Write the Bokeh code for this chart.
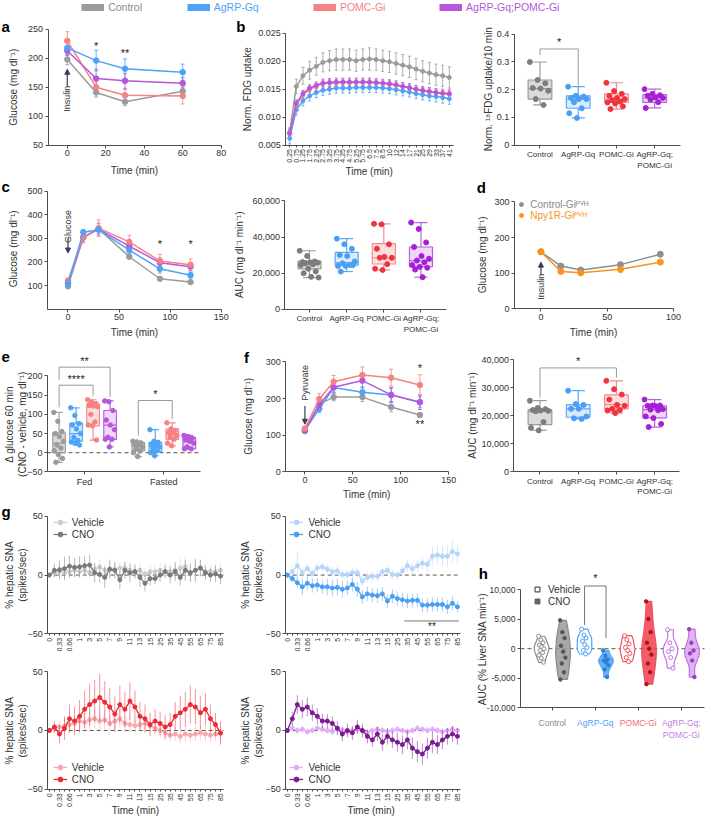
import numpy as np
from bokeh.plotting import figure
from bokeh.models import (Range1d, Label, Arrow, NormalHead, Whisker, TeeHead,
                          ColumnDataSource, Legend, LegendItem, FixedTicker, NumeralTickFormatter)
from bokeh.layouts import row, column
from bokeh.embed import file_html
from bokeh.resources import INLINE

FONT = "Liberation Sans"
AXC = "#4d4d4d"
TXC = "#333333"
NAVY = "#34405a"

# ---------------- data ----------------
GROUPS = ["Control", "AgRP-Gq", "POMC-Gi", "AgRP-Gq;POMC-Gi"]
GROUP_TICKS = ["Control", "AgRP-Gq", "POMC-Gi", "AgRP-Gq;\nPOMC-Gi"]
LINE_COL = ["#9b9b9b", "#4da3f7", "#f78183", "#b656dc"]
BOX_FILL = ["#d6d6d6", "#d5e8fd", "#fddadb", "#eed3f8"]
BOX_LINE = ["#9a9a9a", "#5aa9f5", "#f58a90", "#bb5fe0"]
DOT_COL = ["#7d7d7d", "#4a9ef5", "#f2333d", "#a51fd4"]

# a: insulin tolerance
a_time = [0, 15, 30, 60]
a_ctrl = [198, 141, 125, 143]
a_agrp = [218, 196, 182, 176]
a_pomc = [230, 150, 136, 135]
a_both = [213, 165, 161, 157]
a_ctrl_err = [9, 8, 7, 8]
a_agrp_err = [12, 18, 17, 14]
a_pomc_err = [16, 12, 10, 14]
a_both_err = [8, 16, 13, 10]

# b: FDG uptake
b_lab = ["0.25", "0.75", "1.25", "1.75", "2.25", "2.75", "3.25", "3.75", "4.25", "4.75", "5.25", "5.75",
         "6.5", "7.5", "8.5", "10", "12", "14", "17", "21", "25", "29", "33", "37", "41"]
b_ctrl = [0.0073, 0.0155, 0.0174, 0.0184, 0.0191, 0.0198, 0.0201, 0.0203, 0.0203, 0.0203, 0.0201, 0.0203,
          0.0204, 0.0203, 0.0201, 0.0199, 0.0196, 0.0193, 0.0190, 0.0186, 0.0182, 0.0179, 0.0176, 0.0174, 0.0171]
b_agrp = [0.0062, 0.0113, 0.0129, 0.0138, 0.0144, 0.0148, 0.0150, 0.0152, 0.0152, 0.0152, 0.0153, 0.0153,
          0.0153, 0.0153, 0.0152, 0.0151, 0.0149, 0.0147, 0.0145, 0.0142, 0.0140, 0.0138, 0.0137, 0.0135, 0.0133]
b_pomc = [0.0070, 0.0122, 0.0140, 0.0150, 0.0155, 0.0160, 0.0161, 0.0161, 0.0162, 0.0162, 0.0162, 0.0162,
          0.0162, 0.0161, 0.0160, 0.0159, 0.0157, 0.0155, 0.0152, 0.0150, 0.0147, 0.0145, 0.0144, 0.0142, 0.0141]
b_both = [0.0071, 0.0125, 0.0142, 0.0152, 0.0157, 0.0161, 0.0162, 0.0163, 0.0163, 0.0163, 0.0163, 0.0163,
          0.0163, 0.0162, 0.0161, 0.0160, 0.0158, 0.0155, 0.0153, 0.0150, 0.0148, 0.0146, 0.0144, 0.0143, 0.0142]
b_ctrl_err = [0.0008, 0.0013, 0.0015, 0.0016, 0.0016, 0.0017, 0.0018, 0.0019, 0.0019, 0.0019, 0.0019, 0.0019,
              0.0020, 0.0019, 0.0019, 0.0019, 0.0019, 0.0019, 0.0019, 0.0019, 0.0019, 0.0019, 0.0019, 0.0019, 0.0019]
b_agrp_err = [0.0010, 0.0009, 0.0009, 0.0009, 0.0009, 0.0009, 0.0009, 0.0009, 0.0009, 0.0009, 0.0009, 0.0009,
              0.0009, 0.0009, 0.0009, 0.0009, 0.0009, 0.0009, 0.0009, 0.0009, 0.0009, 0.0009, 0.0010, 0.0010, 0.0010]
b_pomc_err = [0.0008, 0.0006, 0.0006, 0.0006, 0.0006, 0.0006, 0.0006, 0.0006, 0.0006, 0.0006, 0.0006, 0.0006,
              0.0006, 0.0006, 0.0006, 0.0006, 0.0006, 0.0006, 0.0006, 0.0006, 0.0006, 0.0006, 0.0006, 0.0006, 0.0006]
b_both_err = [0.0008, 0.0006, 0.0006, 0.0006, 0.0006, 0.0007, 0.0007, 0.0007, 0.0007, 0.0007, 0.0007, 0.0007,
              0.0007, 0.0007, 0.0007, 0.0007, 0.0007, 0.0007, 0.0007, 0.0007, 0.0007, 0.0007, 0.0007, 0.0007, 0.0007]

# b right: FDG uptake / 10 min boxes
br_lo = [0.145, 0.098, 0.130, 0.134]
br_q1 = [0.166, 0.133, 0.154, 0.154]
br_med = [0.204, 0.166, 0.166, 0.170]
br_q3 = [0.235, 0.178, 0.185, 0.182]
br_hi = [0.300, 0.211, 0.225, 0.202]
br_ctrl = [0.300, 0.235, 0.223, 0.206, 0.204, 0.196, 0.166, 0.145]
br_agrp = [0.211, 0.178, 0.175, 0.170, 0.166, 0.166, 0.155, 0.133, 0.115, 0.098]
br_pomc = [0.225, 0.195, 0.185, 0.178, 0.170, 0.166, 0.162, 0.157, 0.154, 0.150, 0.140, 0.130]
br_both = [0.202, 0.185, 0.180, 0.178, 0.172, 0.170, 0.165, 0.155, 0.134]

# c: glucose tolerance
c_time = [0, 15, 30, 60, 90, 120]
c_ctrl = [97, 303, 340, 222, 129, 115]
c_agrp = [108, 326, 336, 250, 171, 144]
c_pomc = [121, 305, 343, 285, 204, 188]
c_both = [114, 305, 339, 267, 197, 180]
c_ctrl_err = [6, 8, 10, 8, 6, 6]
c_agrp_err = [8, 10, 15, 15, 18, 12]
c_pomc_err = [10, 25, 35, 28, 28, 25]
c_both_err = [8, 18, 25, 20, 20, 18]

# c right: AUC boxes
cr_lo = [17600, 20900, 21800, 17800]
cr_q1 = [22400, 24500, 25100, 23600]
cr_med = [25800, 25800, 28500, 26900]
cr_q3 = [26700, 31500, 36400, 34500]
cr_hi = [32400, 39100, 47300, 48000]
cr_ctrl = [32400, 29500, 26500, 26200, 26000, 25800, 25500, 25000, 24500, 22500, 21000, 20000, 18000, 17600]
cr_agrp = [39100, 36000, 33500, 30000, 29500, 26500, 25500, 24500, 24000, 24000, 24500, 20900]
cr_pomc = [47300, 47000, 36000, 33500, 29000, 28500, 28500, 25000, 22500, 21800]
cr_both = [48000, 44500, 37000, 34500, 29500, 28000, 27000, 26000, 24500, 23500, 23000, 22000, 17800]

# d: Npy1R
d_time = [0, 15, 30, 60, 90]
d_ctrl = [160, 120, 109, 124, 153]
d_npy = [160, 105, 101, 111, 131]
d_ctrl_err = [6, 5, 5, 5, 6]
d_npy_err = [6, 5, 5, 8, 6]

# e: delta glucose boxes (Fed then Fasted, groups in order)
e_lo = [-25, 20, 33, 15, -10, -8, 18, 10]
e_q1 = [0, 30, 70, 35, 5, 3, 35, 10]
e_med = [25, 50, 118, 72, 18, 15, 50, 28]
e_q3 = [52, 77, 126, 110, 27, 27, 62, 40]
e_hi = [105, 117, 138, 135, 30, 60, 78, 45]
e_fed_ctrl = [105, 82, 55, 50, 42, 30, 20, 12, 5, -5, -15, -25]
e_fed_agrp = [117, 97, 76, 72, 62, 50, 40, 32, 28, 25, 20]
e_fed_pomc = [138, 132, 128, 125, 122, 120, 100, 80, 72, 70, 33]
e_fed_both = [135, 133, 110, 85, 72, 60, 40, 35, 35, 15]
e_fast_ctrl = [30, 28, 25, 22, 20, 15, 10, 5, 0, -10]
e_fast_agrp = [60, 30, 27, 22, 18, 15, 10, 5, 0, -8]
e_fast_pomc = [78, 62, 58, 52, 50, 45, 40, 35, 25, 18]
e_fast_both = [45, 42, 38, 35, 30, 25, 15, 10, 10]

# f: pyruvate tolerance
f_time = [0, 15, 30, 60, 90, 120]
f_ctrl = [111, 185, 204, 204, 177, 155]
f_agrp = [113, 172, 230, 217, 210, 190]
f_pomc = [118, 199, 246, 264, 257, 237]
f_both = [114, 183, 231, 249, 210, 190]
f_ctrl_err = [5, 12, 10, 12, 13, 6]
f_agrp_err = [6, 10, 12, 15, 18, 15]
f_pomc_err = [6, 15, 17, 22, 23, 28]
f_both_err = [5, 12, 15, 20, 20, 20]

# f right: AUC boxes
fr_lo = [14700, 18800, 20900, 15900]
fr_q1 = [16800, 19400, 22400, 19200]
fr_med = [21500, 22400, 23900, 22100]
fr_q3 = [22100, 23900, 27400, 23500]
fr_hi = [25300, 28900, 32400, 25700]
fr_ctrl = [25300, 22700, 22300, 22000, 21800, 21700, 21500, 17700, 15600, 14700]
fr_agrp = [28900, 24100, 23800, 22400, 22400, 19700, 19000, 18800]
fr_pomc = [32400, 29400, 27500, 25700, 23800, 23500, 22400, 22000, 21800, 20900]
fr_both = [25700, 23600, 23600, 23500, 23400, 22300, 22100, 21900, 19700, 19100, 17000, 15900]

# g: hepatic SNA time courses
g_lab = ["0", "0.16", "0.33", "0.5", "0.66", "0.83", "1", "2", "3", "4", "5", "6", "7", "8", "9", "10",
         "11", "12", "13", "14", "15", "20", "25", "30", "35", "40", "45", "50", "55", "60", "65", "70",
         "75", "80", "85"]
ctl_veh = [0, 2, 3, 2, 3, 4, 3, 4, 2, 5, 7, 4, 5, 5, 6, 6, 4, 3, 4, 1, 3, 3, 4, 3, 3, 4, 6, 7, 2, 4,
           6, 3, 3, 3, 4]
ctl_veh_err = [0, 4, 5, 5, 6, 6, 5, 6, 5, 6, 6, 5, 5, 6, 5, 6, 5, 5, 6, 5, 5, 6, 6, 5, 6, 7, 8, 9, 7, 8,
               7, 6, 6, 6, 6]
ctl_cno = [0, 4, 4.5, 5.5, 7.5, 6.5, 7, 8, 8.5, 2, 0.5, -2, 5, 4, -4, 4, 2, 3, -2, -7, -3, -3, 0, 3, 0,
           3, -2, 4, 2, 4, 6, 2, 0, 1, -1]
ctl_cno_err = [0, 6, 8, 10, 9, 8, 9, 8, 9, 8, 7, 9, 8, 7, 8, 7, 8, 6, 8, 7, 6, 5, 6, 6, 7, 8, 7, 9, 8, 10,
               7, 6, 6, 7, 7]
agrp_veh = [0, 3, 8, 2, 5.5, 1.5, 6, 7, 5, 3, 3.5, 0.5, 0.3, 2, 2, -5, -2, -1, -1, 3, 4, 0.5, 0, 3.5, 8,
            5.5, 8, 10, 9, 16, 17, 16, 16, 20, 18]
agrp_veh_err = [0, 4, 12, 5, 4, 4, 4, 4, 4, 4, 4, 4, 4, 4, 4, 4, 4, 4, 4, 4, 4, 4, 4, 4, 5, 5, 5, 5, 6, 8,
                8, 9, 9, 10, 8]
agrp_cno = [0, -3, -6.5, -10, -7, -9, -8.5, -10, -10, -11, -10.5, -12, -11, -8, -12, -18.5, -16, -17, -17.5,
            -16, -22, -18, -20, -21, -22, -21.5, -21.5, -25.5, -25.5, -25, -25, -25, -27, -24, -27]
agrp_cno_err = [0, 3, 5, 7, 6, 6, 6, 6, 7, 7, 7, 7, 6, 6, 6, 6, 6, 6, 6, 6, 6, 6, 6, 6, 6, 6, 6, 6, 6, 6,
                6, 6, 6, 6, 5]
pomc_veh = [0, 2, 3, 4, 5, 6, 8, 7, 9, 10, 8, 9, 6, 8, 10, 6, 5, 4, 5, 6, 4, 2, 0, -2, -4, -3, -5, -3, -4,
            -3, -2, -3, -4, -3, -3]
pomc_veh_err = [0, 4, 5, 6, 6, 7, 7, 8, 8, 8, 8, 8, 7, 8, 8, 7, 7, 6, 6, 6, 6, 6, 6, 6, 6, 6, 6, 6, 6, 6,
                6, 6, 6, 6, 6]
pomc_cno = [0, 3, -3, 2, 10, 8, 12, 18, 22, 25, 28, 24, 20, 14, 22, 18, 25, 20, 12, 10, 5, 8, 6, 3, 5, 12,
            15, 18, 22, 20, 15, 18, 10, 5, -2]
pomc_cno_err = [0, 5, 8, 10, 12, 12, 14, 16, 18, 18, 20, 18, 16, 15, 16, 15, 16, 14, 12, 12, 10, 10, 10, 10,
                10, 12, 14, 15, 16, 15, 14, 14, 12, 10, 10]
both_veh = [0, 2, 0, 1, -1, 0, 2, 1, 0, -1, 1, 0, -1, 0, 1, 0, -2, 0, 1, 0, -1, 0, 1, 0, -1, 0, 2, 1, 0, 1,
            0, -1, 0, 1, 0]
both_veh_err = [0, 3, 3, 3, 3, 3, 3, 3, 3, 3, 3, 3, 3, 3, 3, 3, 3, 3, 3, 3, 3, 3, 3, 3, 3, 3, 3, 3, 3, 3,
                3, 3, 3, 3, 3]
both_cno = [0, 10, 22, 18, 20, 15, 12, 8, 8, 6, 2, -3, 0, -2, 3, 0, -5, -8, -3, -10, -5, -8, -10, -12, -8,
            -15, -18, -20, -15, -10, -12, -8, -5, -3, -5]
both_cno_err = [0, 6, 8, 8, 8, 7, 7, 6, 6, 6, 6, 6, 6, 6, 6, 6, 6, 6, 6, 7, 7, 7, 8, 8, 8, 9, 9, 9, 9, 9,
                8, 8, 7, 7, 7]

# h: AUC violins
h_ctrl_veh = [2100, 1500, 1000, 600, 300, 0, -300, -700, -1100, -1600, -2300]
h_ctrl_cno = [4800, 2800, 1800, 500, -500, -1500, -2500, -4000, -5200]
h_agrp_veh = [3300, 2300, 1800, 1300, 700, 200, -300, -900]
h_agrp_cno = [-300, -1200, -1800, -2000, -2300, -2800, -3500, -4800]
h_pomc_veh = [2200, 1500, 800, 200, -300, -800, -1500, -2200]
h_pomc_cno = [8000, 5000, 2800, 1000, 0, -1000, -2500, -4000, -6000]
h_both_veh = [3200, 1000, 0, -500, -1500, -3300]
h_both_cno = [3300, 1000, -300, -800, -2000, -4800]

# ---------------- page geometry (reference px -> layout px) ----------------
SX = 706 / 722
SY = 818 / 830


class Panel:
    def __init__(self, L, T, W, H, xa, xb, ya, yb):
        self.L, self.T, self.W, self.H = L, T, W, H
        pa, pb = xa[0] * SX - L, xb[0] * SX - L
        self.kx = (xb[1] - xa[1]) / (pb - pa)
        self.x0 = xa[1] - pa * self.kx
        qa, qb = ya[0] * SY - T, yb[0] * SY - T
        self.ky = (yb[1] - ya[1]) / (qb - qa)
        self.y0 = ya[1] - qa * self.ky

    def dx(self, rx):
        return self.x0 + (rx * SX - self.L) * self.kx

    def dy(self, ry):
        return self.y0 + (ry * SY - self.T) * self.ky

    def loc(self, rx, ry_bottom):
        return (rx * SX - self.L, self.H - (ry_bottom * SY - self.T))


def mkfig(P, xbounds, xfix, ybounds, yfix):
    p = figure(width=P.W, height=P.H, x_range=Range1d(P.x0, P.x0 + P.W * P.kx),
               y_range=Range1d(P.y0 + P.H * P.ky, P.y0), min_border=0,
               output_backend="svg", toolbar_location=None)
    p.outline_line_color = None
    p.xgrid.visible = False
    p.ygrid.visible = False
    for ax in p.axis:
        ax.axis_line_color = AXC
        ax.axis_line_width = 1
        ax.major_tick_line_color = AXC
        ax.major_tick_out = 3
        ax.major_tick_in = 0
        ax.minor_tick_line_color = None
        ax.major_label_text_font = FONT
        ax.major_label_text_font_size = "9px"
        ax.major_label_text_color = TXC
        ax.major_label_standoff = 2
    p.xaxis.fixed_location = xfix
    p.xaxis.bounds = xbounds
    p.yaxis.fixed_location = yfix
    p.yaxis.bounds = ybounds
    return p


def text(p, x, y, txt, size="9px", color=TXC, angle=0.0, align="center", baseline="middle", bold=False):
    p.add_layout(Label(x=x, y=y, text=txt, angle=angle, text_font=FONT, text_font_size=size,
                       text_color=color, text_align=align, text_baseline=baseline,
                       text_font_style="bold" if bold else "normal"))


def letter(p, P, rx, ry, txt):
    text(p, P.dx(rx), P.dy(ry), txt, size="15px", color="black", align="left", bold=True)


def ytitle(p, P, rx, ry, txt):
    text(p, P.dx(rx), P.dy(ry), txt, size="10px", angle=np.pi / 2)


def xtitle(p, P, rx, ry, txt):
    text(p, P.dx(rx), P.dy(ry), txt, size="10px")


def star(p, x, y, txt, size="11px"):
    text(p, x, y, txt, size=size, color="#222222")


def arrow(p, x0, y0, x1, y1):
    p.add_layout(Arrow(end=NormalHead(size=5, fill_color=NAVY, line_color=NAVY),
                       x_start=x0, y_start=y0, x_end=x1, y_end=y1, line_color=NAVY, line_width=1.2))


def errbar(p, x, y, e, color, cap=4, lw=1.0, alpha=1.0):
    src = ColumnDataSource(dict(x=list(x), lo=[a - b for a, b in zip(y, e)], hi=[a + b for a, b in zip(y, e)]))
    w = Whisker(source=src, base="x", upper="hi", lower="lo", dimension="height",
                line_color=color, line_width=lw, line_alpha=alpha,
                upper_head=TeeHead(size=cap, line_color=color, line_alpha=alpha, line_width=lw),
                lower_head=TeeHead(size=cap, line_color=color, line_alpha=alpha, line_width=lw))
    p.add_layout(w)


def series(p, x, y, e, color, size=5.5, lw=1.5, cap=4):
    errbar(p, x, y, e, color, cap=cap, alpha=0.8)
    p.line(x, y, line_color=color, line_width=lw)
    p.scatter(x, y, size=size, fill_color=color, line_color=color)


def bracket(p, xs, ys, color="#9a9a9a"):
    p.line(xs, ys, line_color=color, line_width=1)


def zero_line(p, x0, x1, y=0):
    p.line([x0, x1], [y, y], line_color="#555555", line_dash="4 3", line_width=1)


def boxes(p, pos, lo, q1, med, q3, hi, pts_list, width, fills, lines, dots, dot_size=5):
    for i in range(len(pos)):
        x = pos[i]
        p.segment(x0=[x, x], x1=[x, x], y0=[q3[i], q1[i]], y1=[hi[i], lo[i]], line_color=lines[i], line_width=1.2)
        p.segment(x0=[x - width * 0.28] * 2, x1=[x + width * 0.28] * 2, y0=[hi[i], lo[i]], y1=[hi[i], lo[i]],
                  line_color=lines[i], line_width=1.2)
        p.vbar(x=[x], width=width, bottom=[q1[i]], top=[q3[i]], fill_color=fills[i], fill_alpha=0.9,
               line_color=lines[i], line_width=1.2)
        p.segment(x0=[x - width / 2], x1=[x + width / 2], y0=[med[i]], y1=[med[i]], line_color=lines[i],
                  line_width=1.2)
        pts = pts_list[i]
        offs = [((k * 0.381966) % 1.0 - 0.5) * width * 0.85 for k in range(len(pts))]
        p.scatter([x + o for o in offs], pts, size=dot_size, fill_color=dots[i], line_color=dots[i])


def cat_axis(p, labels, ticks, size="8px"):
    p.xaxis.ticker = FixedTicker(ticks=ticks)
    p.xaxis.major_label_overrides = {t: lab for t, lab in zip(ticks, labels)}
    p.xaxis.major_label_text_font_size = size


# ---------------- legend strip ----------------
strip = figure(width=706, height=16, x_range=Range1d(0, 706), y_range=Range1d(0, 16), min_border=0,
               x_axis_location=None, y_axis_location=None, output_backend="svg", toolbar_location=None)
strip.outline_line_color = None
strip.xgrid.visible = False
strip.ygrid.visible = False
leg_ref_x = [83, 191, 320, 449]
leg_txt = ["#8c8c8c", "#4da3f7", "#f47f85", "#b656dc"]
for name, col, tc, rx in zip(GROUPS, LINE_COL, leg_txt, leg_ref_x):
    r = strip.line(x=[np.nan], y=[np.nan], line_color=col, line_width=7)
    lg = Legend(items=[LegendItem(label=name, renderers=[r])], location=(rx * SX, 3),
                background_fill_alpha=0, border_line_color=None, label_text_color=tc,
                label_text_font=FONT, label_text_font_size="10.5px", glyph_width=23, glyph_height=12,
                label_height=12, label_standoff=4, padding=0, margin=0, spacing=0)
    strip.add_layout(lg)

# ---------------- band 1 ----------------
Pa = Panel(0, 16, 233, 161, (68.3, 0), (225.7, 80), (29.3, 250), (146.7, 50))
pa = mkfig(Pa, (-10, 80), 50, (50, 250), -10)
pa.xaxis.ticker = FixedTicker(ticks=[0, 20, 40, 60, 80])
pa.yaxis.ticker = FixedTicker(ticks=[50, 100, 150, 200, 250])
for ys, es, c in zip([a_ctrl, a_pomc, a_both, a_agrp], [a_ctrl_err, a_pomc_err, a_both_err, a_agrp_err],
                     [LINE_COL[0], LINE_COL[2], LINE_COL[3], LINE_COL[1]]):
    series(pa, a_time, ys, es, c)
star(pa, 15, 222, "*")
star(pa, 30, 209, "**")
arrow(pa, 0, 152, 0, 181)
text(pa, 0, 130, "Insulin", angle=np.pi / 2)
ytitle(pa, Pa, 13, 88, "Glucose (mg dl\u207b\u00b9)")
xtitle(pa, Pa, 137, 172, "Time (min)")
letter(pa, Pa, 1, 26, "a")

Pb = Panel(233, 16, 240, 161, (295.7, 0), (459, 24), (33.3, 0.025), (146.7, 0.005))
pb = mkfig(Pb, (-0.59, 24.6), 0.005, (0.005, 0.025), -0.59)
bx = list(range(len(b_lab)))
pb.xaxis.ticker = FixedTicker(ticks=bx)
pb.xaxis.major_label_overrides = {i: s for i, s in zip(bx, b_lab)}
pb.xaxis.major_label_orientation = np.pi / 2
pb.xaxis.major_label_text_font_size = "7px"
pb.xaxis.major_tick_out = 2
pb.yaxis.ticker = FixedTicker(ticks=[0.005, 0.010, 0.015, 0.020, 0.025])
pb.yaxis.formatter = NumeralTickFormatter(format="0.000")
for ys, es, c in zip([b_ctrl, b_agrp, b_pomc, b_both], [b_ctrl_err, b_agrp_err, b_pomc_err, b_both_err], LINE_COL):
    series(pb, bx, ys, es, c, size=4, lw=1.5, cap=3)
ytitle(pb, Pb, 253, 90, "Norm. FDG uptake")
xtitle(pb, Pb, 377, 174, "Time (min)")
letter(pb, Pb, 241, 26, "b")

Pbr = Panel(473, 16, 233, 161, (551.7, 0), (669, 3), (34.3, 0.4), (146.7, 0))
pbr = mkfig(Pbr, (-0.67, 3.67), 0, (0, 0.4), -0.67)
cat_axis(pbr, GROUP_TICKS, [0, 1, 2, 3])
pbr.yaxis.ticker = FixedTicker(ticks=[0, 0.1, 0.2, 0.3, 0.4])
pbr.yaxis.formatter = NumeralTickFormatter(format="0.[0]")
boxes(pbr, [0, 1, 2, 3], br_lo, br_q1, br_med, br_q3, br_hi, [br_ctrl, br_agrp, br_pomc, br_both], 0.62,
      BOX_FILL, BOX_LINE, DOT_COL)
bracket(pbr, [0, 0, 1, 1], [0.325, 0.347, 0.347, 0.215])
star(pbr, 0.5, 0.372, "*")
ytitle(pbr, Pbr, 499, 90, "Norm. \u00b9\u2078FDG uptake/10 min")

# ---------------- band 2 ----------------
Pc = Panel(0, 177, 230, 161, (69, 0), (225.7, 150), (193.3, 500), (313.3, 0))
pc = mkfig(Pc, (-20, 150), 0, (0, 500), -20)
pc.xaxis.ticker = FixedTicker(ticks=[0, 50, 100, 150])
pc.yaxis.ticker = FixedTicker(ticks=[100, 200, 300, 400, 500])
for ys, es, c in zip([c_ctrl, c_both, c_pomc, c_agrp], [c_ctrl_err, c_both_err, c_pomc_err, c_agrp_err],
                     [LINE_COL[0], LINE_COL[3], LINE_COL[2], LINE_COL[1]]):
    series(pc, c_time, ys, es, c)
star(pc, 90, 275, "*")
star(pc, 120, 275, "*")
text(pc, 0, 350, "Glucose", angle=np.pi / 2)
arrow(pc, 0, 300, 0, 238)
ytitle(pc, Pc, 13, 252, "Glucose (mg dl\u207b\u00b9)")
xtitle(pc, Pc, 137, 336.7, "Time (min)")
letter(pc, Pc, 1, 189, "c")

Pcr = Panel(230, 177, 235, 161, (316, 0), (430, 3), (203.3, 60000), (276.7, 20000))
pcr = mkfig(Pcr, (-0.66, 3.7), 0, (0, 60000), -0.66)
cat_axis(pcr, GROUP_TICKS, [0, 1, 2, 3])
pcr.yaxis.ticker = FixedTicker(ticks=[0, 20000, 40000, 60000])
pcr.yaxis.formatter = NumeralTickFormatter(format="0,0")
boxes(pcr, [0, 1, 2, 3], cr_lo, cr_q1, cr_med, cr_q3, cr_hi, [cr_ctrl, cr_agrp, cr_pomc, cr_both], 0.62,
      BOX_FILL, BOX_LINE, DOT_COL)
ytitle(pcr, Pcr, 244, 258, "AUC (mg dl\u207b\u00b9 min\u207b\u00b9)")

Pd = Panel(465, 177, 241, 161, (552.7, 0), (688.3, 100), (204.3, 300), (276.7, 100))
pd = mkfig(Pd, (-20, 100), 0, (0, 300), -20)
pd.xaxis.ticker = FixedTicker(ticks=[0, 50, 100])
pd.yaxis.ticker = FixedTicker(ticks=[0, 100, 200, 300])
D_GRAY = "#8f8f8f"
D_ORANGE = "#f7931e"
errbar(pd, d_time, d_ctrl, d_ctrl_err, D_GRAY, cap=4)
errbar(pd, d_time, d_npy, d_npy_err, D_ORANGE, cap=4)
pd.line(d_time, d_ctrl, line_color=D_GRAY, line_width=1.5)
rc = pd.scatter(d_time, d_ctrl, size=6, fill_color=D_GRAY, line_color=D_GRAY)
pd.line(d_time, d_npy, line_color=D_ORANGE, line_width=1.5)
rn = pd.scatter(d_time, d_npy, size=6, fill_color=D_ORANGE, line_color=D_ORANGE)
for lab, r, tc, yb in [("Control-Gi\u1d3e\u2c7d\u1d34", rc, "#8a8a8a", 214.3),
                       ("Npy1R-Gi\u1d3e\u2c7d\u1d34", rn, D_ORANGE, 225.3)]:
    lg = Legend(items=[LegendItem(label=lab, renderers=[r])], location=Pd.loc(528, yb), background_fill_alpha=0,
                border_line_color=None, label_text_color=tc, label_text_font=FONT, label_text_font_size="10px",
                glyph_width=10, glyph_height=12, label_height=12, label_standoff=4, padding=0, margin=0, spacing=0)
    pd.add_layout(lg)
arrow(pd, 0, 96, 0, 131)
text(pd, 0, 62, "Insulin", angle=np.pi / 2)
ytitle(pd, Pd, 493, 258, "Glucose (mg dl\u207b\u00b9)")
xtitle(pd, Pd, 606.5, 336.7, "Time (min)")
letter(pd, Pd, 487, 190, "d")

# ---------------- band 3 ----------------
Pe = Panel(0, 338, 238, 162, (86, 0), (167, 1), (381, 200), (478.3, -50))
pe = mkfig(Pe, (-0.469, 1.469), -50, (-50, 200), -0.469)
cat_axis(pe, ["Fed", "Fasted"], [0, 1], size="9px")
pe.yaxis.ticker = FixedTicker(ticks=[-50, 0, 50, 100, 150, 200])
zero_line(pe, -0.469, 1.469)
e_off = [-0.322, -0.107, 0.107, 0.322]
e_pos = [o for o in e_off] + [1 + o for o in e_off]
E_FILL = BOX_FILL * 2
E_LINE = ["#a0a0a0", "#5aa9f5", "#f58a90", "#bb5fe0"] * 2
E_DOT = ["#9b9b9b", "#4da3f7", "#f78183", "#b656dc"] * 2
boxes(pe, e_pos, e_lo, e_q1, e_med, e_q3, e_hi,
      [e_fed_ctrl, e_fed_agrp, e_fed_pomc, e_fed_both, e_fast_ctrl, e_fast_agrp, e_fast_pomc, e_fast_both],
      0.16, E_FILL, E_LINE, E_DOT, dot_size=4.5)
bracket(pe, [-0.322, -0.322, 0.107, 0.107], [118, 176, 176, 148])
bracket(pe, [-0.322, -0.322, 0.322, 0.322], [190, 223, 223, 145])
bracket(pe, [0.678, 0.678, 1.107, 1.107], [45, 136, 136, 88])
star(pe, -0.107, 193, "****")
star(pe, 0.0, 240, "**")
star(pe, 0.893, 153, "*")
ytitle(pe, Pe, 16, 430, "\u0394 glucose 60 min\n(CNO - vehicle, mg dl\u207b\u00b9)")
letter(pe, Pe, 1, 362, "e")

Pf = Panel(238, 338, 222, 162, (311.3, 0), (458.3, 150), (366.7, 300), (478.3, 0))
pf = mkfig(Pf, (-20, 150), 0, (0, 300), -20)
pf.xaxis.ticker = FixedTicker(ticks=[0, 50, 100, 150])
pf.yaxis.ticker = FixedTicker(ticks=[0, 100, 200, 300])
for ys, es, c in zip([f_ctrl, f_agrp, f_both, f_pomc], [f_ctrl_err, f_agrp_err, f_both_err, f_pomc_err],
                     [LINE_COL[0], LINE_COL[1], LINE_COL[3], LINE_COL[2]]):
    series(pf, f_time, ys, es, c)
star(pf, 120, 283, "*")
star(pf, 120, 131, "**")
text(pf, 0, 243, "Pyruvate", angle=np.pi / 2)
arrow(pf, 0, 180, 0, 130)
ytitle(pf, Pf, 254, 422, "Glucose (mg dl\u207b\u00b9)")
xtitle(pf, Pf, 374.5, 501.7, "Time (min)")
letter(pf, Pf, 249, 362, "f")

Pfr = Panel(460, 338, 246, 162, (551.7, 0), (669, 3), (364.3, 40000), (478, 0))
pfr = mkfig(Pfr, (-0.68, 3.65), 0, (0, 40000), -0.68)
cat_axis(pfr, GROUP_TICKS, [0, 1, 2, 3])
pfr.yaxis.ticker = FixedTicker(ticks=[0, 10000, 20000, 30000, 40000])
pfr.yaxis.formatter = NumeralTickFormatter(format="0,0")
boxes(pfr, [0, 1, 2, 3], fr_lo, fr_q1, fr_med, fr_q3, fr_hi, [fr_ctrl, fr_agrp, fr_pomc, fr_both], 0.62,
      BOX_FILL, BOX_LINE, DOT_COL)
bracket(pfr, [0, 0, 2, 2], [26500, 37000, 37000, 33500])
star(pfr, 1, 39300, "*")
ytitle(pfr, Pfr, 483, 421, "AUC (mg dl\u207b\u00b9 min\u207b\u00b9)")

# ---------------- band 4/5: g and h ----------------
gx = list(range(len(g_lab)))


def gpanel(P, ax0, veh, veh_err, cno, cno_err, c_veh, c_cno, leg_rx, leg_ry, title_rx, title_ry, xlab):
    p = mkfig(P, (ax0, 34.6), -50, (-50, 50), ax0)
    p.xaxis.ticker = FixedTicker(ticks=gx)
    p.xaxis.major_label_overrides = {i: (g_lab[i] if i % 2 == 0 else "") for i in gx}
    p.xaxis.major_label_orientation = np.pi / 2
    p.xaxis.major_label_text_font_size = "7px"
    p.xaxis.major_tick_out = 2
    p.yaxis.ticker = FixedTicker(ticks=[-50, 0, 50])
    zero_line(p, ax0, 34.6)
    p.segment(x0=gx, x1=gx, y0=[a - e for a, e in zip(veh, veh_err)], y1=[a + e for a, e in zip(veh, veh_err)],
              line_color=c_veh, line_alpha=0.55, line_width=1)
    rv = p.line(gx, veh, line_color=c_veh, line_width=1.3)
    rvs = p.scatter(gx, veh, size=4, fill_color=c_veh, line_color=c_veh)
    p.segment(x0=gx, x1=gx, y0=[a - e for a, e in zip(cno, cno_err)], y1=[a + e for a, e in zip(cno, cno_err)],
              line_color=c_cno, line_alpha=0.5, line_width=1)
    rc_ = p.line(gx, cno, line_color=c_cno, line_width=1.3)
    rcs = p.scatter(gx, cno, size=4, fill_color=c_cno, line_color=c_cno)
    lg = Legend(items=[LegendItem(label="Vehicle", renderers=[rv, rvs]), LegendItem(label="CNO", renderers=[rc_, rcs])],
                location=P.loc(leg_rx, leg_ry), background_fill_alpha=0, border_line_color=None,
                label_text_color=TXC, label_text_font=FONT, label_text_font_size="10px", glyph_width=14,
                glyph_height=12, label_height=12, label_standoff=5, padding=0, margin=0, spacing=0)
    p.add_layout(lg)
    ytitle(p, P, title_rx, title_ry, "% hepatic SNA\n(spikes/sec)")
    if xlab:
        xtitle(p, P, title_rx + 122, 822, "Time (min)")
    return p


PgTL = Panel(0, 500, 233, 158, (50, 0), (225, 34), (523.3, 50), (642.7, -50))
gTL = gpanel(PgTL, -0.33, ctl_veh, ctl_veh_err, ctl_cno, ctl_cno_err, "#cfcfcf", "#7a7a7a",
             54, 548, 16, 583, False)
letter(gTL, PgTL, 1, 519, "g")
PgTR = Panel(233, 500, 240, 158, (293.3, 0), (467.3, 34), (523.3, 50), (642.7, -50))
gTR = gpanel(PgTR, -0.31, agrp_veh, agrp_veh_err, agrp_cno, agrp_cno_err, "#b5d5fb", "#4a9ef5",
             296, 548, 257, 583, False)
gTR.line([23.4, 34.3], [-39, -39], line_color="#777777", line_width=1)
star(gTR, 28.9, -44, "**", size="10px")
PgBL = Panel(0, 658, 233, 160, (50, 0), (225, 34), (681, 50), (800.4, -50))
gBL = gpanel(PgBL, -0.33, pomc_veh, pomc_veh_err, pomc_cno, pomc_cno_err, "#f6a9ac", "#ee2a35",
             54, 797, 16, 741, True)
PgBR = Panel(233, 658, 240, 160, (293.3, 0), (467.3, 34), (681, 50), (800.4, -50))
gBR = gpanel(PgBR, -0.31, both_veh, both_veh_err, both_cno, both_cno_err, "#e3aef5", "#7b1a92",
             296, 797, 257, 741, True)

Ph = Panel(473, 500, 233, 318, (564.3, 0), (696.2, 3), (597.7, 10000), (717.7, -10000))
ph = mkfig(Ph, (-0.74, 3.54), -10000, (-10000, 10000), -0.74)
ph.xaxis.ticker = FixedTicker(ticks=[0, 1, 2, 3])
ph.xaxis.major_label_overrides = {0: "", 1: "", 2: "", 3: ""}
ph.yaxis.ticker = FixedTicker(ticks=[-10000, -5000, 0, 5000, 10000])
ph.yaxis.formatter = NumeralTickFormatter(format="0,0")
ph.yaxis.major_label_text_font_size = "8.5px"
zero_line(ph, -0.74, 3.54)
H_LINE = ["#8a8a8a", "#4da3f7", "#f0505c", "#c070e0"]
H_FILL = ["#9a9a9a", "#4da3f7", "#f0404d", "#dba6f2"]
H_DOT = ["#555555", "#2f7fd6", "#b0101c", "#9a3fc0"]
H_LAB = ["#8a8a8a", "#4da3f7", "#f06b78", "#c27ee0"]


def violin(p, xc, pts, half, fill, fill_alpha, line, dot, hollow_dots):
    arr = np.asarray(pts, dtype=float)
    lo, hi = arr.min(), arr.max()
    ys = np.linspace(lo, hi, 60)
    bw = 0.45 * arr.std() + 1.0
    dens = np.exp(-0.5 * ((ys[:, None] - arr[None, :]) / bw) ** 2).sum(axis=1)
    dens = dens / dens.max() * half
    xs = np.concatenate([[xc], xc - dens, [xc], [xc], (xc + dens)[::-1], [xc]])
    yy = np.concatenate([[lo], ys, [hi], [hi], ys[::-1], [lo]])
    p.patch(xs, yy, fill_color=fill, fill_alpha=fill_alpha, line_color=line, line_width=1.2)
    offs = [((k * 0.381966) % 1.0 - 0.5) * half * 0.8 for k in range(len(pts))]
    if hollow_dots:
        p.scatter([xc + o for o in offs], pts, size=4, fill_color="white", line_color=dot, line_width=1)
    else:
        p.scatter([xc + o for o in offs], pts, size=3.5, fill_color=dot, line_color=dot)


veh_sets = [h_ctrl_veh, h_agrp_veh, h_pomc_veh, h_both_veh]
cno_sets = [h_ctrl_cno, h_agrp_cno, h_pomc_cno, h_both_cno]
for gi in range(4):
    violin(ph, gi - 0.25, veh_sets[gi], 0.17, "white", 1.0, H_LINE[gi], H_LINE[gi], True)
    violin(ph, gi + 0.25, cno_sets[gi], 0.17, H_FILL[gi], 0.85, H_LINE[gi], H_DOT[gi], False)
    text(ph, gi, Ph.dy(728), GROUP_TICKS[gi], size="8.5px", color=H_LAB[gi], baseline="top")
bracket(ph, [0.75, 0.75, 1.25, 1.25], [4000, 10600, 10600, 1800], color="#777777")
star(ph, 1, 11900, "*")
r_v = ph.scatter(x=[np.nan], y=[np.nan], marker="square", size=11, fill_color="white", line_color="#555555",
                 line_width=1.2)
r_c = ph.scatter(x=[np.nan], y=[np.nan], marker="square", size=11, fill_color="#666666", line_color="#555555")
hl = Legend(items=[LegendItem(label="Vehicle", renderers=[r_v]), LegendItem(label="CNO", renderers=[r_c])],
            location=Ph.loc(543, 616), background_fill_alpha=0, border_line_color=None, label_text_color=TXC,
            label_text_font=FONT, label_text_font_size="10px", glyph_width=12, glyph_height=12,
            label_height=12, label_standoff=5, padding=0, margin=0, spacing=0)
ph.add_layout(hl)
ytitle(ph, Ph, 493, 658, "AUC (% Liver SNA min\u207b\u00b9)")
letter(ph, Ph, 489, 581, "h")

layout = column(
    strip,
    row(pa, pb, pbr),
    row(pc, pcr, pd),
    row(pe, pf, pfr),
    row(column(row(gTL, gTR), row(gBL, gBR)), ph),
)

with open("out.html", "w") as fh:
    fh.write(file_html(layout, INLINE))
